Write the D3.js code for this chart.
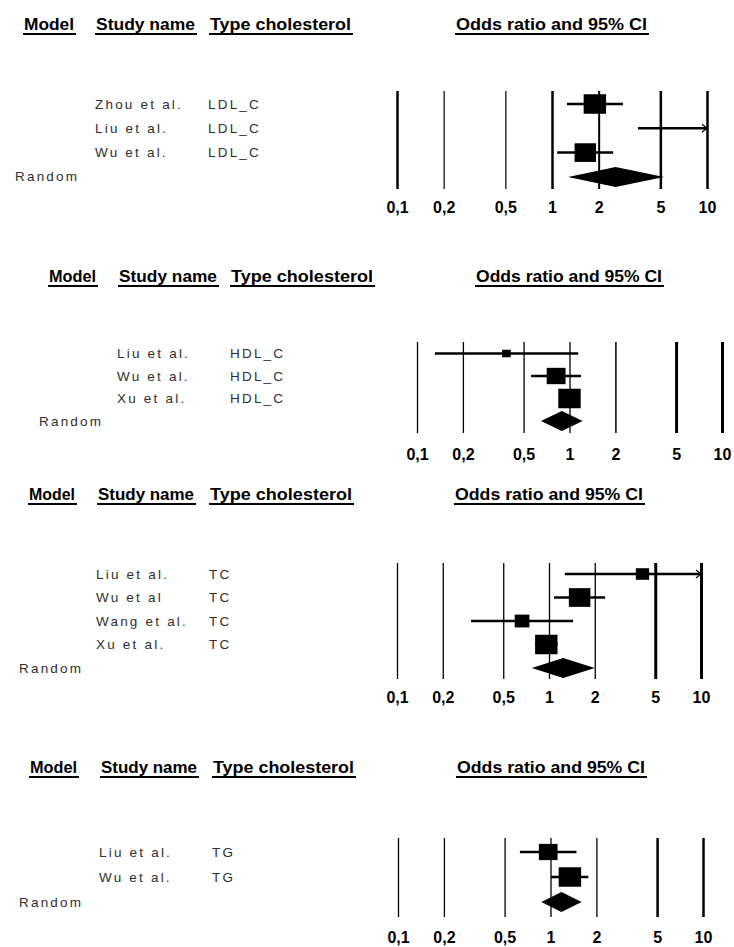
<!DOCTYPE html>
<html>
<head>
<meta charset="utf-8">
<script src="https://cdn.jsdelivr.net/npm/d3@7"></script>
<style>
  html, body { margin: 0; padding: 0; background: #fff; }
  svg { display: block; font-family: "Liberation Sans", Arial, sans-serif; }
</style>
</head>
<body>
<div id="chart"></div>
<script>
// shared axis + header text
const tickValues = [0.1, 0.2, 0.5, 1, 2, 5, 10];
const tickLabels = ["0,1", "0,2", "0,5", "1", "2", "5", "10"];
const headerLabels = ["Model", "Study name", "Type cholesterol", "Odds ratio and 95% CI"];
const modelLabel = "Random";

// LDL cholesterol
const ldlStudies = ["Zhou et al.", "Liu et al.", "Wu et al."];
const ldlType = "LDL_C";
const ldlOR = [1.89, 11.5, 1.64];
const ldlLower = [1.25, 3.59, 1.08];
const ldlUpper = [2.87, 36.8, 2.48];
const ldlWeight = [48, 8, 44];
const ldlPooled = [2.57, 1.27, 5.28]; // estimate, lower, upper

// HDL cholesterol
const hdlStudies = ["Liu et al.", "Wu et al.", "Xu et al."];
const hdlType = "HDL_C";
const hdlOR = [0.386, 0.817, 1.0];
const hdlLower = [0.131, 0.56, 0.92];
const hdlUpper = [1.14, 1.19, 1.09];
const hdlWeight = [8, 38, 54];
const hdlPooled = [0.89, 0.65, 1.22];

// total cholesterol
const tcStudies = ["Liu et al.", "Wu et al", "Wang et al.", "Xu et al."];
const tcType = "TC";
const tcOR = [4.12, 1.59, 0.665, 0.96];
const tcLower = [1.27, 1.08, 0.307, 0.81];
const tcUpper = [13.4, 2.34, 1.44, 1.14];
const tcWeight = [13, 34, 16, 37];
const tcPooled = [1.24, 0.77, 2.0];

// triglycerides
const tgStudies = ["Liu et al.", "Wu et al."];
const tgType = "TG";
const tgOR = [0.966, 1.34];
const tgLower = [0.63, 1.01];
const tgUpper = [1.48, 1.77];
const tgWeight = [41, 59];
const tgPooled = [1.18, 0.87, 1.6];

const width = 734, height = 947;

// where each of the four blocks sits on the page
const layouts = [
  { x0: 397, x1: 707, headY: 30, top: 91, bottom: 189, tickY: 213, row0: 104, rowStep: 24.3,
    studyX: 95, typeX: 208, modelX: 15,
    heads: [[23, 76], [95, 197], [209, 353], [455, 649]],
    gridW: [2.5, 1.2, 1.2, 2.5, 2, 2.5, 2.5] },
  { x0: 417, x1: 722, headY: 282, top: 342, bottom: 433, tickY: 460, row0: 353.5, rowStep: 22.5,
    studyX: 117, typeX: 230, modelX: 39,
    heads: [[48, 98], [118, 219], [230, 375], [475, 664]],
    gridW: [1.3, 1.3, 1.3, 1.3, 1.5, 3, 3] },
  { x0: 397, x1: 701, headY: 500, top: 563, bottom: 679, tickY: 703, row0: 574, rowStep: 23.5,
    studyX: 96, typeX: 209, modelX: 19,
    heads: [[28, 77], [97, 196], [209, 354], [454, 645]],
    gridW: [1.3, 1.3, 1.3, 1.3, 1.3, 3, 3] },
  { x0: 398, x1: 703, headY: 773, top: 838, bottom: 917, tickY: 943, row0: 852, rowStep: 25,
    studyX: 99, typeX: 212, modelX: 19,
    heads: [[29, 79], [100, 199], [212, 356], [456, 647]],
    gridW: [1.3, 1.3, 1.3, 1.3, 1.3, 2.5, 2.5] }
];

const panels = [
  { studies: ldlStudies, type: ldlType, or: ldlOR, lo: ldlLower, hi: ldlUpper, w: ldlWeight, pooled: ldlPooled },
  { studies: hdlStudies, type: hdlType, or: hdlOR, lo: hdlLower, hi: hdlUpper, w: hdlWeight, pooled: hdlPooled },
  { studies: tcStudies, type: tcType, or: tcOR, lo: tcLower, hi: tcUpper, w: tcWeight, pooled: tcPooled },
  { studies: tgStudies, type: tgType, or: tgOR, lo: tgLower, hi: tgUpper, w: tgWeight, pooled: tgPooled }
];

const svg = d3.select("#chart")
  .append("svg")
  .attr("width", width)
  .attr("height", height);

panels.forEach((p, k) => {
  const L = layouts[k];
  const g = svg.append("g");

  const x = d3.scaleLog()
    .domain([0.1, 10])
    .range([L.x0, L.x1]);

  const y = d3.scaleLinear()
    .domain([0, 1])
    .range([L.row0, L.row0 + L.rowStep]);

  const box = d3.scaleSqrt()
    .domain([0, d3.max(p.w)])
    .range([0, 19.5]);

  // column headers, bold and underlined
  headerLabels.forEach((label, i) => {
    const [a, b] = L.heads[i];
    g.append("text")
      .attr("x", a + 1)
      .attr("y", L.headY)
      .attr("textLength", b - a - 3)
      .attr("lengthAdjust", "spacingAndGlyphs")
      .style("font-size", "16.5px")
      .style("font-weight", "bold")
      .attr("fill", "#000")
      .text(label);
    g.append("line")
      .attr("x1", a).attr("x2", b)
      .attr("y1", L.headY + 4).attr("y2", L.headY + 4)
      .attr("stroke", "#000")
      .attr("stroke-width", 2);
  });

  // vertical reference lines at the ticks
  const grid = g.append("g")
    .attr("transform", `translate(0,${L.bottom})`)
    .call(d3.axisBottom(x)
      .tickValues(tickValues)
      .tickSize(-(L.bottom - L.top))
      .tickFormat(""));
  grid.select(".domain").remove();
  grid.selectAll(".tick line")
    .attr("stroke", "#000")
    .attr("stroke-width", (d, i) => L.gridW[i]);

  // tick labels
  const axis = g.append("g")
    .attr("transform", `translate(0,${L.tickY})`)
    .call(d3.axisBottom(x)
      .tickValues(tickValues)
      .tickSize(0)
      .tickPadding(0)
      .tickFormat((d, i) => tickLabels[i]));
  axis.select(".domain").remove();
  axis.selectAll(".tick text")
    .attr("y", 0)
    .attr("dy", null)
    .attr("fill", "#000")
    .style("font-size", "16px")
    .style("font-weight", "bold")
    .style("font-family", "'Liberation Sans', Arial, sans-serif");

  // study rows
  const labelStyle = sel => sel
    .style("font-size", "13.5px")
    .style("letter-spacing", "2.2px")
    .attr("fill", "#2e2e2e");

  p.studies.forEach((name, i) => {
    const cy = y(i);
    g.append("text").attr("x", L.studyX).attr("y", cy + 4.5).call(labelStyle).text(name);
    g.append("text").attr("x", L.typeX).attr("y", cy + 4.5).call(labelStyle).text(p.type);

    const lo = Math.max(p.lo[i], 0.1), hi = Math.min(p.hi[i], 10);
    g.append("line")
      .attr("x1", x(lo)).attr("x2", x(hi))
      .attr("y1", cy).attr("y2", cy)
      .attr("stroke", "#000")
      .attr("stroke-width", 2.5);

    // arrow where the interval runs past the axis
    if (p.hi[i] > 10) {
      const ax = x(10);
      g.append("path")
        .attr("d", `M${ax - 5},${cy - 4}L${ax},${cy}L${ax - 5},${cy + 4}`)
        .attr("fill", "none")
        .attr("stroke", "#000")
        .attr("stroke-width", 1.2);
    }

    if (p.or[i] <= 10 && p.or[i] >= 0.1) {
      const s = box(p.w[i]);
      g.append("rect")
        .attr("x", x(p.or[i]) - s * 0.575)
        .attr("y", cy - s / 2)
        .attr("width", s * 1.15)
        .attr("height", s)
        .attr("fill", "#000");
    }
  });

  // pooled random-effects diamond
  const ry = y(p.studies.length);
  g.append("text").attr("x", L.modelX).attr("y", ry + 4.5).call(labelStyle).text(modelLabel);
  const [est, plo, phi] = p.pooled;
  g.append("path")
    .attr("d", `M${x(plo)},${ry}L${x(est)},${ry - 10}L${x(phi)},${ry}L${x(est)},${ry + 10}Z`)
    .attr("fill", "#000");
});
</script>
</body>
</html>
